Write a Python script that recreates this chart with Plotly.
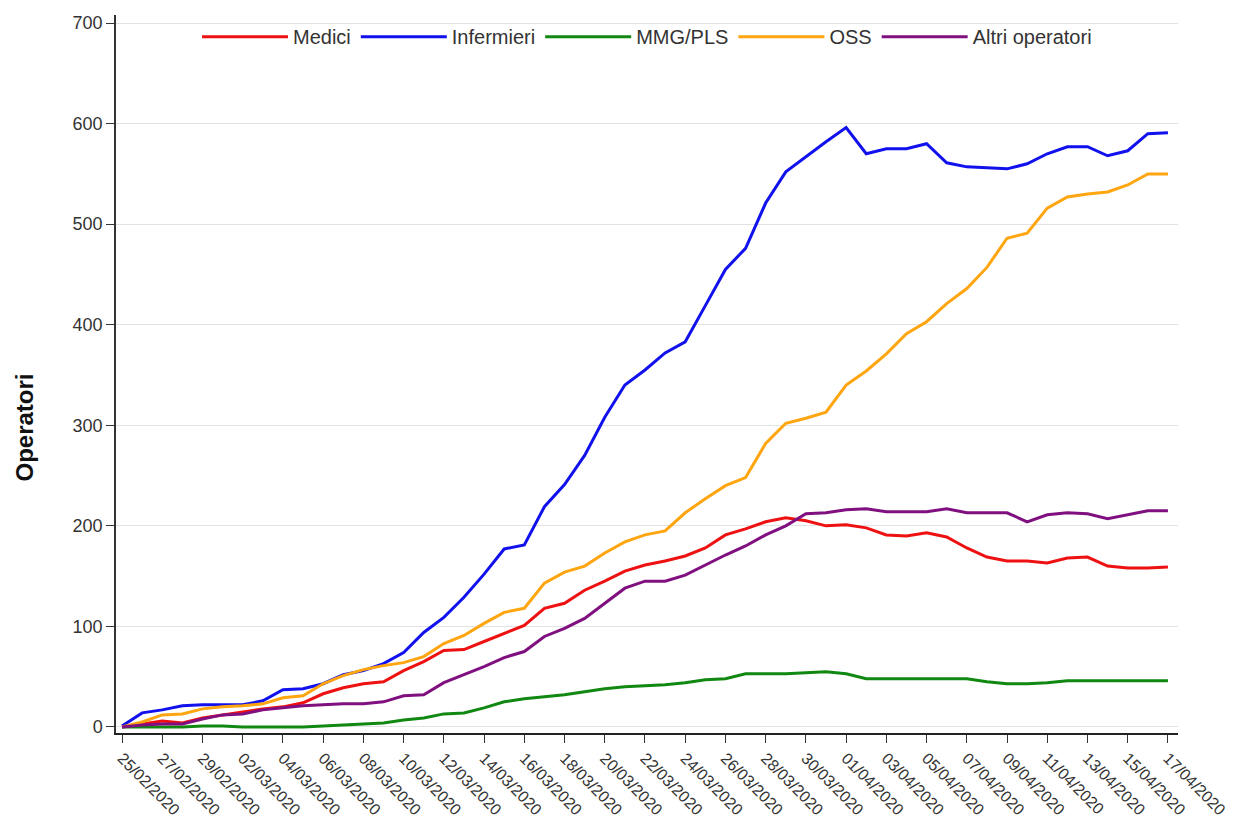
import datetime as dt
import plotly.graph_objects as go

start = dt.date(2020, 2, 25)
dates = [(start + dt.timedelta(days=i)).strftime("%d/%m/%Y") for i in range(53)]

medici = [0, 3, 6, 4, 9, 12, 15, 18, 20, 24, 33, 39, 43, 45, 56, 65, 76, 77, 85, 93,
          101, 118, 123, 136, 145, 155, 161, 165, 170, 178, 191, 197, 204, 208, 205, 200,
          201, 198, 191, 190, 193, 189, 178, 169, 165, 165, 163, 168, 169, 160, 158, 158, 159]
infermieri = [1, 14, 17, 21, 22, 22, 22, 26, 37, 38, 43, 52, 56, 63, 74, 94, 109, 129, 152, 177,
              181, 219, 241, 270, 308, 340, 355, 372, 383, 419, 455, 476, 521, 552, 567, 582,
              596, 570, 575, 575, 580, 561, 557, 556, 555, 560, 570, 577, 577, 568, 573, 590, 591]
mmg_pls = [0, 0, 0, 0, 1, 1, 0, 0, 0, 0, 1, 2, 3, 4, 7, 9, 13, 14, 19, 25,
           28, 30, 32, 35, 38, 40, 41, 42, 44, 47, 48, 53, 53, 53, 54, 55,
           53, 48, 48, 48, 48, 48, 48, 45, 43, 43, 44, 46, 46, 46, 46, 46, 46]
oss = [0, 5, 12, 13, 18, 20, 21, 23, 29, 31, 43, 51, 57, 61, 64, 70, 83, 91, 103, 114,
       118, 143, 154, 160, 173, 184, 191, 195, 213, 227, 240, 248, 282, 302, 307, 313,
       340, 354, 371, 391, 403, 421, 436, 457, 486, 491, 516, 527, 530, 532, 539, 550, 550]
altri = [0, 2, 3, 3, 8, 12, 13, 17, 19, 21, 22, 23, 23, 25, 31, 32, 44, 52, 60, 69,
         75, 90, 98, 108, 123, 138, 145, 145, 151, 161, 171, 180, 191, 200, 212, 213,
         216, 217, 214, 214, 214, 217, 213, 213, 213, 204, 211, 213, 212, 207, 211, 215, 215]

series = [("Medici", medici, "#ee1111"),
          ("Infermieri", infermieri, "#1111ee"),
          ("MMG/PLS", mmg_pls, "#118811"),
          ("OSS", oss, "#ffa510"),
          ("Altri operatori", altri, "#801080")]

tick_labels = dates[::2]
y_ticks = [0, 100, 200, 300, 400, 500, 600, 700]

fig = go.Figure()
for name, vals, col in series:
    fig.add_trace(go.Scatter(x=dates, y=vals, mode="lines", name=name,
                             line=dict(color=col, width=3)))

fig.update_layout(
    width=1233, height=820,
    margin=dict(l=116, r=55, t=15, b=87, autoexpand=False),
    plot_bgcolor="white", paper_bgcolor="white",
    font=dict(family="Liberation Sans, Arial, sans-serif", size=15, color="#333333"),
    showlegend=True,
    legend=dict(orientation="h", x=0.5, xanchor="center", y=0.997, yanchor="top",
                font=dict(size=20, color="#333333"), itemwidth=86,
                bgcolor="rgba(0,0,0,0)", tracegroupgap=0),
    xaxis=dict(type="category", range=[-0.3, 52.5], tickmode="array",
               tickvals=tick_labels, ticktext=tick_labels, tickangle=45,
               ticks="outside", ticklen=8, tickcolor="#333333", automargin=False,
               showline=True, linecolor="#222222", linewidth=1.5,
               showgrid=False, tickfont=dict(size=16, color="#333333")),
    yaxis=dict(range=[-6, 708], tickmode="array", tickvals=y_ticks,
               ticks="outside", ticklen=8, tickcolor="#333333", automargin=False,
               showline=True, linecolor="#333333", linewidth=1.5,
               showgrid=True, gridcolor="#e3e3e3", gridwidth=1,
               zeroline=False, tickfont=dict(size=18, color="#333333")),
    annotations=[dict(text="<b>Operatori</b>", textangle=-90, showarrow=False,
                      xref="paper", yref="paper", x=-0.086, y=0.425,
                      xanchor="center", yanchor="middle",
                      font=dict(family="Liberation Sans Narrow, Arial Narrow, Liberation Sans, sans-serif",
                                size=24, color="#111111"))],
)

fig.write_html("out.html")
